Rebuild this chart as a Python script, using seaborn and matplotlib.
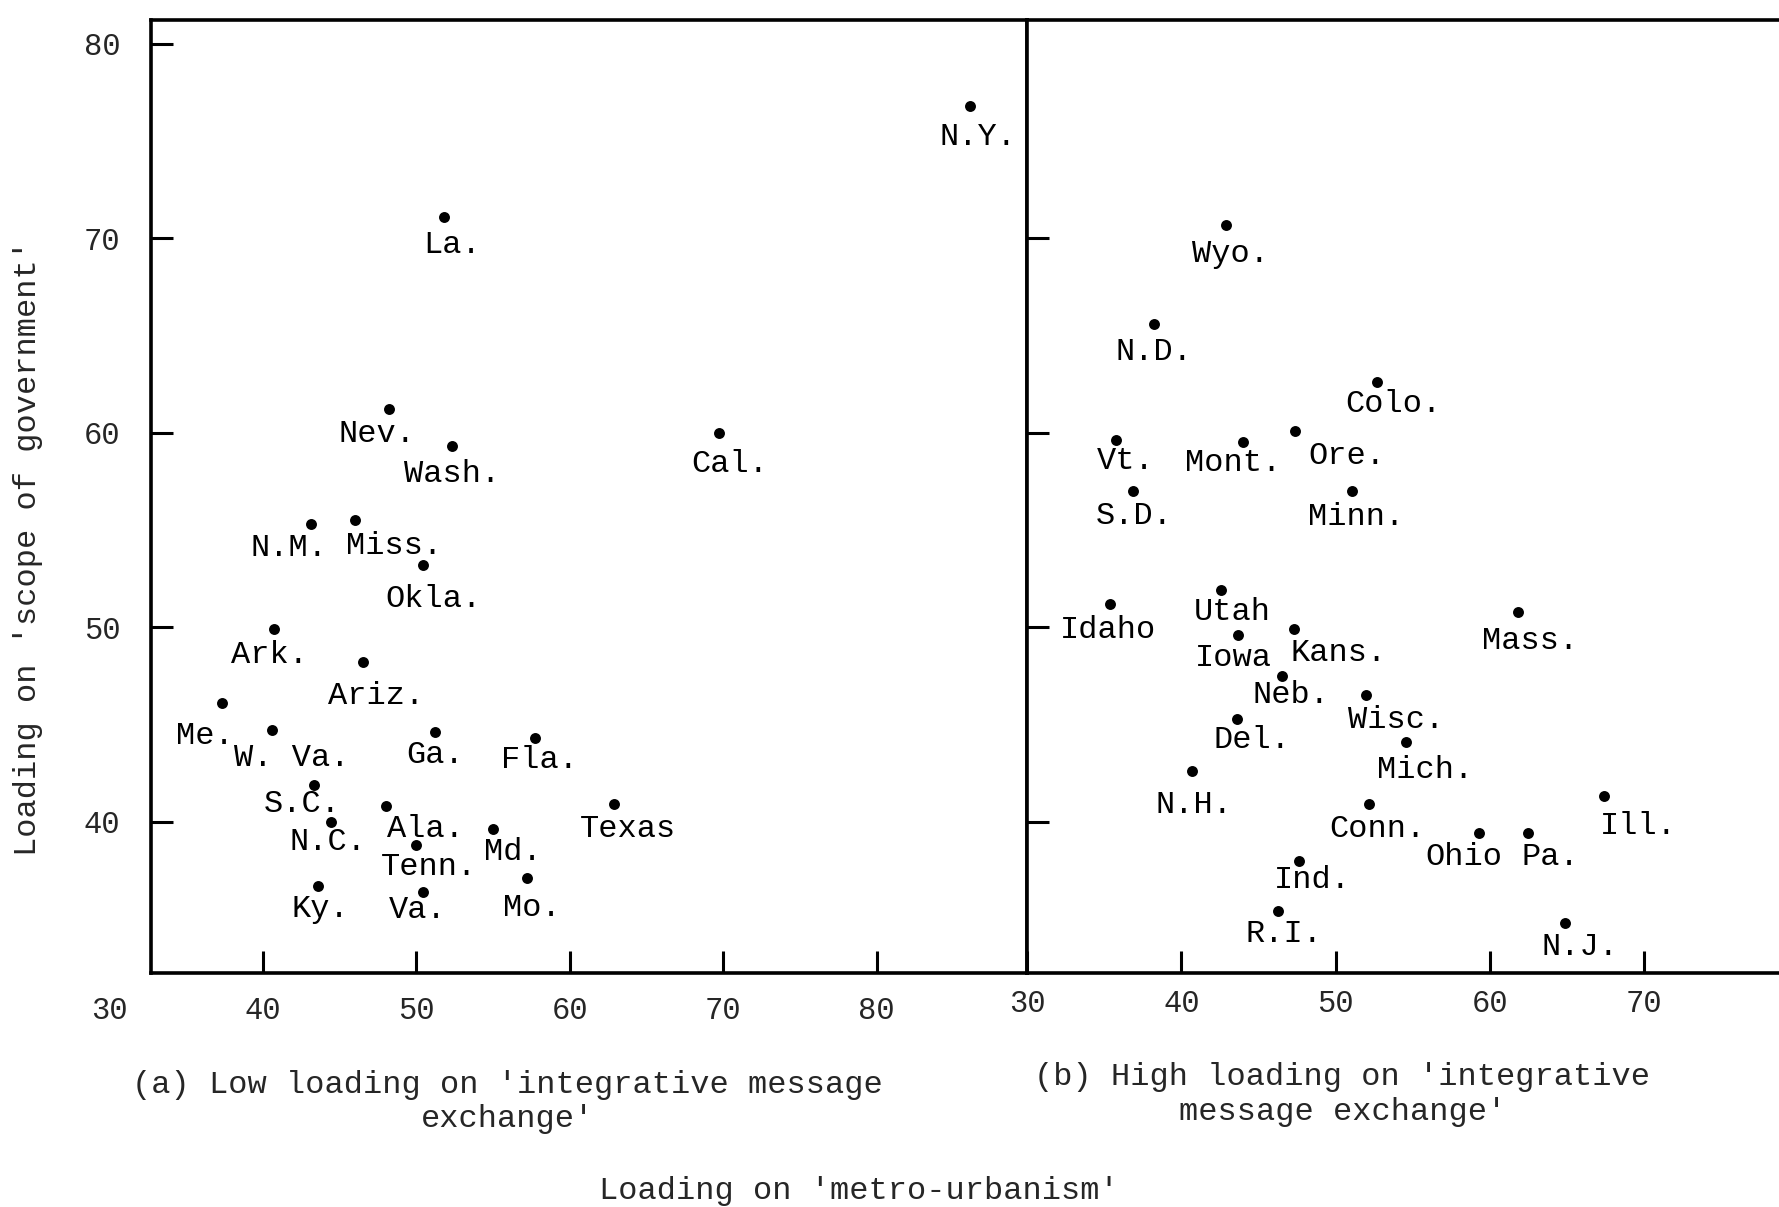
import pandas as pd
import matplotlib
matplotlib.use("Agg")
import matplotlib.pyplot as plt
import seaborn as sns

# panel (a): low loading on integrative message exchange
low_states = ['N.Y.', 'La.', 'Nev.', 'Wash.', 'Cal.', 'N.M.', 'Miss.', 'Okla.',
              'Ark.', 'Ariz.', 'Me.', 'W. Va.', 'Ga.', 'Fla.', 'S.C.', 'N.C.',
              'Ala.', 'Tenn.', 'Md.', 'Texas', 'Ky.', 'Va.', 'Mo.']
low_metro = [86.1, 51.8, 48.2, 52.3, 69.7, 43.1, 46.0, 50.4,
             40.7, 46.5, 37.3, 40.6, 51.2, 57.7, 43.3, 44.4,
             48.0, 50.0, 55.0, 62.9, 43.6, 50.4, 57.2]
low_scope = [76.8, 71.1, 61.2, 59.3, 60.0, 55.3, 55.5, 53.2,
             49.9, 48.2, 46.1, 44.7, 44.6, 44.3, 41.9, 40.0,
             40.8, 38.8, 39.6, 40.9, 36.7, 36.4, 37.1]

# panel (b): high loading on integrative message exchange
high_states = ['Wyo.', 'N.D.', 'Colo.', 'Vt.', 'Mont.', 'Ore.', 'S.D.', 'Minn.',
               'Idaho', 'Utah', 'Iowa', 'Kans.', 'Mass.', 'Neb.', 'Wisc.', 'Del.',
               'Mich.', 'N.H.', 'Conn.', 'Ohio', 'Pa.', 'Ill.', 'Ind.', 'R.I.', 'N.J.']
high_metro = [42.9, 38.2, 52.7, 35.8, 44.0, 47.4, 36.9, 51.1,
              35.4, 42.6, 43.7, 47.3, 61.8, 46.5, 52.0, 43.6,
              54.6, 40.7, 52.2, 59.3, 62.5, 67.4, 47.6, 46.3, 64.9]
high_scope = [70.7, 65.6, 62.6, 59.6, 59.5, 60.1, 57.0, 57.0,
              51.2, 51.9, 49.6, 49.9, 50.8, 47.5, 46.5, 45.3,
              44.1, 42.6, 40.9, 39.4, 39.4, 41.3, 38.0, 35.4, 34.8]

# label offsets from the dot (px, down is positive)
low_offsets = [(7, 27), (7, 25), (-10, 22), (0, 24), (10, 28), (-19, 21), (34, 23), (10, 30),
               (-4, 23), (12, 30), (-15, 29), (17, 24), (0, 20), (4, 19), (-10, 17), (-2, 18),
               (35, 20), (11, 19), (17, 20), (12, 22), (2, 20), (-4, 16), (4, 26)]
high_offsets = [(4, 26), (0, 25), (14, 19), (8, 18), (-9, 18), (45, 22), (1, 22), (3, 23),
                (-2, 23), (10, 19), (-4, 20), (39, 21), (11, 26), (8, 17), (26, 22), (13, 19),
                (16, 25), (2, 30), (7, 22), (-13, 21), (19, 21), (30, 26), (12, 17), (5, 20), (13, 21)]

low_df = pd.DataFrame({'state': low_states, 'metro': low_metro, 'scope': low_scope})
high_df = pd.DataFrame({'state': high_states, 'metro': high_metro, 'scope': high_scope})

sns.set_style('ticks')
plt.rcParams['font.family'] = ['Liberation Mono', 'DejaVu Sans Mono']
FS = 23
TFS = 22

fig = plt.figure(figsize=(17.79, 12.07), dpi=100)
ax1 = fig.add_axes([0.0849, 0.1935, 0.4924, 0.7897])
ax2 = fig.add_axes([0.5773, 0.1935, 0.4227, 0.7897])

PX = 0.817  # shrunk px -> points

for ax, df, offs in [(ax1, low_df, low_offsets), (ax2, high_df, high_offsets)]:
    sns.scatterplot(data=df, x='metro', y='scope', ax=ax, color='black',
                    s=62, edgecolor='black', linewidth=0, legend=False)
    for st, xv, yv, (dx, dy) in zip(df['state'], df['metro'], df['scope'], offs):
        ax.annotate(st, (xv, yv), xytext=(dx * PX, -dy * PX), textcoords='offset points',
                    ha='center', va='center', fontsize=FS, color='black')
    ax.set_ylim(32.2, 81.2)
    ax.set_xlabel('')
    ax.set_ylabel('')
    for sp in ax.spines.values():
        sp.set_linewidth(2.6)
        sp.set_color('black')
    ax.tick_params(axis='both', direction='in', length=16, width=2.2, color='black',
                   labelsize=TFS, bottom=True, left=True, top=False, right=False)

ax1.set_xlim(32.7, 89.8)
ax1.set_xticks([40, 50, 60, 70, 80])
ax1.set_yticks([40, 50, 60, 70, 80])
ax1.tick_params(axis='y', pad=22)
ax1.tick_params(axis='x', pad=16.5)
ax1.annotate('30', (30, 0), xycoords=('data', 'axes fraction'), xytext=(0, -16.5),
             textcoords='offset points', ha='center', va='top', fontsize=TFS,
             annotation_clip=False)

ax2.set_xlim(30, 78.75)
ax2.set_xticks([30, 40, 50, 60, 70])
ax2.set_yticks([40, 50, 60, 70])
ax2.set_yticklabels([])
ax2.spines['right'].set_visible(False)
ax2.tick_params(axis='x', pad=11.5)

fig.text(0.016, 0.546, "Loading on 'scope of government'", rotation=90,
         ha='center', va='center', fontsize=FS)
fig.text(0.285, 0.087, "(a) Low loading on 'integrative message\nexchange'",
         ha='center', va='center', fontsize=FS, linespacing=1.2)
fig.text(0.7545, 0.093, "(b) High loading on 'integrative\nmessage exchange'",
         ha='center', va='center', fontsize=FS, linespacing=1.2)
fig.text(0.483, 0.013, "Loading on 'metro-urbanism'", ha='center', va='center',
         fontsize=FS)

fig.savefig('out.png', dpi=100)
